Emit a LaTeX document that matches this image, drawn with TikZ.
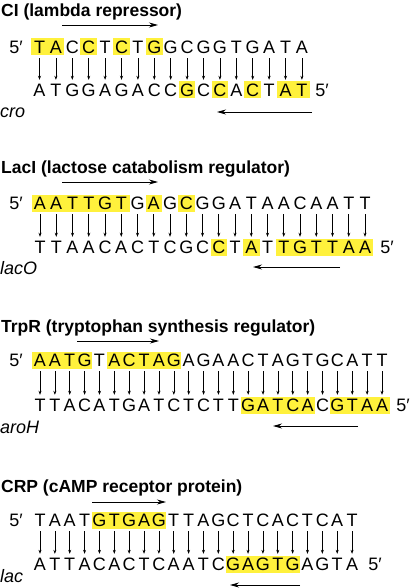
\documentclass[tikz,border=0pt]{standalone}
\usepackage{fontspec}
\setmainfont{Liberation Sans}
\usetikzlibrary{positioning, arrows.meta}
\definecolor{hl}{RGB}{255,241,60}

\begin{document}
\begin{tikzpicture}
    [
        x=1pt, y=-1pt,
        base/.style={inner sep=0pt, minimum height=17pt, text height=13pt, text depth=0pt, font=\fontsize{18}{18}\selectfont},
        shade 1/.style={fill=hl},
        shade 0/.style={},
        prime/.style={inner sep=0pt, text height=13pt, text depth=0pt, font=\fontsize{18}{18}\selectfont},
        title/.style={anchor=base west, inner sep=0pt, font=\fontsize{17.5}{18}\selectfont\bfseries},
        gene/.style={anchor=base west, inner sep=0pt, font=\fontsize{18}{18}\selectfont\itshape},
        pair/.style={-{Stealth[length=4pt, width=3pt]}, line width=0.6pt, shorten <=2.5pt, shorten >=1.5pt},
        site/.style={-{Stealth[length=9pt, width=5pt]}, line width=0.8pt},
    ]
        \useasboundingbox (0,0) rectangle (413,588);

        % CI
        \node[title] (ci-title) at (1,17) {CI (lambda repressor)};
        \node[prime] (ci-top-end) at (16,47) {5′};
        \foreach \b/\s [count=\i] in {T/1,A/1,C/0,C/1,T/0,C/1,T/0,G/1,G/0,C/0,G/0,G/0,T/0,G/0,A/0,T/0,A/0}
            \node[base, minimum width=16.6pt, shade \s] (ci-t\i) at ({39.5+16.4*(\i-1)},47) {\b};
        \foreach \b/\s [count=\i] in {A/0,T/0,G/0,G/0,A/0,G/0,A/0,C/0,C/0,G/1,C/0,C/1,A/0,C/1,T/0,A/1,T/1}
            \node[base, minimum width=16.6pt, shade \s] (ci-b\i) at ({39.5+16.4*(\i-1)},90) {\b};
        \node[prime] (ci-bot-end) at (322,90) {5′};
        \foreach \i in {1,...,17}
            \draw[pair] (ci-t\i) -- (ci-b\i);
        \node[gene] (ci-gene) at (0,118) {cro};
        \coordinate (ci-fs) at (62,25);
        \coordinate (ci-fe) at (158,25);
        \coordinate (ci-rs) at (312,112);
        \coordinate (ci-re) at (217,112);
        \draw[site] (ci-fs) -- (ci-fe);
        \draw[site] (ci-rs) -- (ci-re);

        % LacI
        \node[title] (lac-title) at (1,173) {LacI (lactose catabolism regulator)};
        \node[prime] (lac-top-end) at (16,203) {5′};
        \foreach \b/\s [count=\i] in {A/1,A/1,T/1,T/1,G/1,T/1,G/0,A/1,G/0,C/1,G/0,G/0,A/0,T/0,A/0,A/0,C/0,A/0,A/0,T/0,T/0}
            \node[base, minimum width=16.5pt, shade \s] (lac-t\i) at ({40+16.25*(\i-1)},203) {\b};
        \foreach \b/\s [count=\i] in {T/0,T/0,A/0,A/0,C/0,A/0,C/0,T/0,C/0,G/0,C/0,C/1,T/0,A/1,T/0,T/1,G/1,T/1,T/1,A/1,A/1}
            \node[base, minimum width=16.5pt, shade \s] (lac-b\i) at ({40+16.25*(\i-1)},247) {\b};
        \node[prime] (lac-bot-end) at (387,247) {5′};
        \foreach \i in {1,...,21}
            \draw[pair] (lac-t\i) -- (lac-b\i);
        \node[gene] (lac-gene) at (0,274) {lacO};
        \coordinate (lac-fs) at (62,182);
        \coordinate (lac-fe) at (158,182);
        \coordinate (lac-rs) at (340,267);
        \coordinate (lac-re) at (253,267);
        \draw[site] (lac-fs) -- (lac-fe);
        \draw[site] (lac-rs) -- (lac-re);

        % TrpR
        \node[title] (trp-title) at (1,332) {TrpR (tryptophan synthesis regulator)};
        \node[prime] (trp-top-end) at (16,360) {5′};
        \foreach \b/\s [count=\i] in {A/1,A/1,T/1,G/1,T/0,A/1,C/1,T/1,A/1,G/1,A/0,G/0,A/0,A/0,C/0,T/0,A/0,G/0,T/0,G/0,C/0,A/0,T/0,T/0}
            \node[base, minimum width=15.1pt, shade \s] (trp-t\i) at ({40+14.87*(\i-1)},360) {\b};
        \foreach \b/\s [count=\i] in {T/0,T/0,A/0,C/0,A/0,T/0,G/0,A/0,T/0,C/0,T/0,C/0,T/0,T/0,G/1,A/1,T/1,C/1,A/1,C/0,G/1,T/1,A/1,A/1}
            \node[base, minimum width=15.1pt, shade \s] (trp-b\i) at ({40+14.87*(\i-1)},405) {\b};
        \node[prime] (trp-bot-end) at (403,405) {5′};
        \foreach \i in {1,...,24}
            \draw[pair] (trp-t\i) -- (trp-b\i);
        \node[gene] (trp-gene) at (0,433) {aroH};
        \coordinate (trp-fs) at (77,341);
        \coordinate (trp-fe) at (159,341);
        \coordinate (trp-rs) at (358,426);
        \coordinate (trp-re) at (273,426);
        \draw[site] (trp-fs) -- (trp-fe);
        \draw[site] (trp-rs) -- (trp-re);

        % CRP
        \node[title] (crp-title) at (1,492) {CRP (cAMP receptor protein)};
        \node[prime] (crp-top-end) at (16,520) {5′};
        \foreach \b/\s [count=\i] in {T/0,A/0,A/0,T/0,G/1,T/1,G/1,A/1,G/1,T/0,T/0,A/0,G/0,C/0,T/0,C/0,A/0,C/0,T/0,C/0,A/0,T/0}
            \node[base, minimum width=15.1pt, shade \s] (crp-t\i) at ({40+14.86*(\i-1)},520) {\b};
        \foreach \b/\s [count=\i] in {A/0,T/0,T/0,A/0,C/0,A/0,C/0,T/0,C/0,A/0,A/0,T/0,C/0,G/1,A/1,G/1,T/1,G/1,A/0,G/0,T/0,A/0}
            \node[base, minimum width=15.1pt, shade \s] (crp-b\i) at ({40+14.86*(\i-1)},564) {\b};
        \node[prime] (crp-bot-end) at (375,564) {5′};
        \foreach \i in {1,...,22}
            \draw[pair] (crp-t\i) -- (crp-b\i);
        \node[gene] (crp-gene) at (0,582) {lac};
        \coordinate (crp-fs) at (92,502);
        \coordinate (crp-fe) at (166,502);
        \coordinate (crp-rs) at (300,585);
        \coordinate (crp-re) at (230,585);
        \draw[site] (crp-fs) -- (crp-fe);
        \draw[site] (crp-rs) -- (crp-re);
    \end{tikzpicture}
\end{document}
